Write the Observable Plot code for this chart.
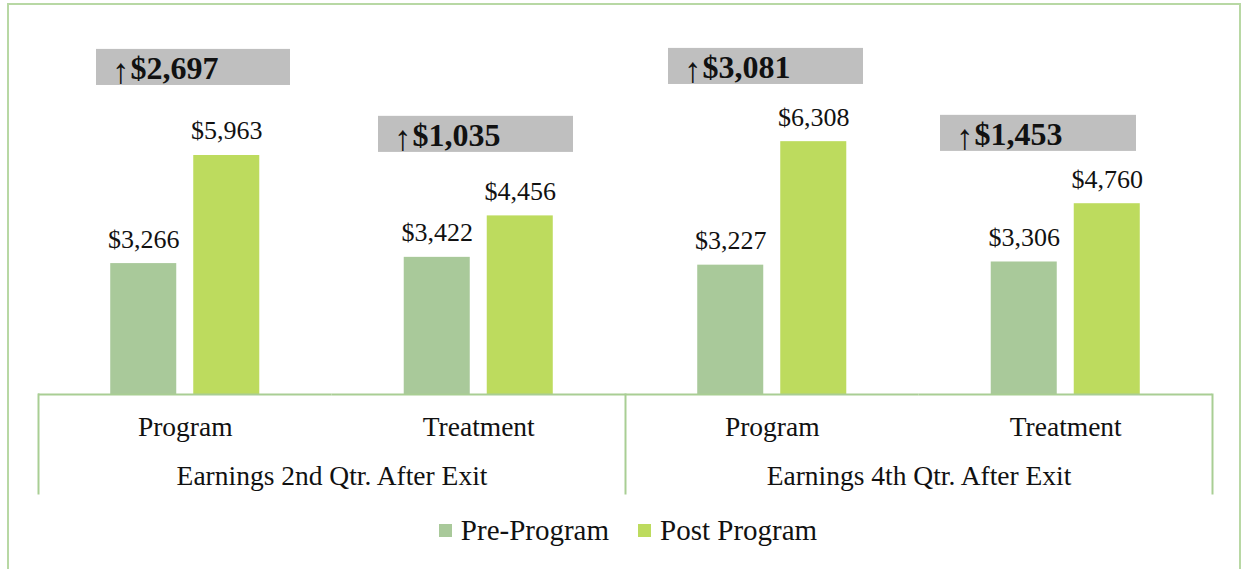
<!DOCTYPE html>
<html><head><meta charset="utf-8">
<script src="https://cdn.jsdelivr.net/npm/d3@7"></script>
<script src="https://cdn.jsdelivr.net/npm/@observablehq/plot@0.6"></script>
<style>
body{margin:0;background:#fff;}
#wrap{position:relative;width:1241px;height:569px;overflow:hidden;background:#fff;}
#border{position:absolute;left:7px;top:3px;width:1234px;height:700px;border:2px solid #b8d8a4;box-sizing:border-box;}
#chart{position:absolute;left:0;top:0;}
#legend{position:absolute;left:0;top:514px;width:1241px;display:flex;justify-content:center;padding-left:15px;box-sizing:border-box;}
#legend .lg-swatch{margin-right:29px !important;}
#legend .lg-swatch:last-child{margin-right:0 !important;}
#legend .lg-swatch svg{margin-right:9px !important;}
</style></head><body>
<div id="wrap"><div id="border"></div><div id="chart"></div><div id="legend"></div></div>
<script>
// ---- data ----
const groups = ["Earnings 2nd Qtr. After Exit", "Earnings 4th Qtr. After Exit"];
const categories = ["Program", "Treatment"];
const series = ["Pre-Program", "Post Program"];
const preValues = [3266, 3422, 3227, 3306];
const postValues = [5963, 4456, 6308, 4760];
const changeValues = [2697, 1035, 3081, 1453];

// ---- styles / layout ----
const colors = ["#a9c99a", "#bddb5e"];
const axisColor = "#a9ce94";
const serif = "'Liberation Serif', 'Times New Roman', serif";
// annotation box placement (pixel insets inside each facet, box extent in y units)
const boxLayout = [
  {left: 58, right: 41.5, lo: 7710, hi: 8610},
  {left: 46.5, right: 52, lo: 6040, hi: 6940},
  {left: 43, right: 55.5, lo: 7735, hi: 8635},
  {left: 21.5, right: 76, lo: 6065, hi: 6965}
];

// ---- build tables ----
const keys = [];
groups.forEach(g => categories.forEach(c => keys.push(g + "|" + c)));
const bars = [];
keys.forEach((k, i) => {
  bars.push({key: k, series: series[0], value: preValues[i]});
  bars.push({key: k, series: series[1], value: postValues[i]});
});
const fmt = d3.format("$,");
const catOf = k => k.split("|")[1];

const marks = [
  Plot.barY(bars, {fx: "key", x: "series", y: "value", fill: "series"}),
  Plot.text(bars, {fx: "key", x: "series", y: "value", text: d => fmt(d.value),
    lineAnchor: "bottom", dy: -16, fontSize: 26, fill: "#111"}),
  Plot.ruleY([0], {stroke: axisColor, strokeWidth: 2}),
  Plot.text(keys, {fx: d => d, text: catOf, frameAnchor: "top", dy: 33,
    lineAnchor: "middle", fontSize: 27.5, fill: "#111"}),
  Plot.text(groups, {fx: g => g + "|" + categories[0], text: d => d, frameAnchor: "top-right",
    textAnchor: "middle", dy: 82, lineAnchor: "middle", fontSize: 27.5, fill: "#111"})
];
// group separators
groups.forEach((g) => {
  marks.push(Plot.frame({anchor: "left", stroke: axisColor, strokeWidth: 2, fx: () => g + "|" + categories[0]}));
});
marks.push(Plot.frame({anchor: "right", stroke: axisColor, strokeWidth: 2,
  fx: () => groups[groups.length - 1] + "|" + categories[categories.length - 1]}));
// annotation boxes
keys.forEach((k, i) => {
  const b = boxLayout[i];
  const row = [{key: k, change: changeValues[i], lo: b.lo, hi: b.hi}];
  marks.push(Plot.rect(row, {fx: "key", y1: "lo", y2: "hi", fill: "#bfbfbf",
    insetLeft: b.left, insetRight: b.right}));
  marks.push(Plot.text(row, {fx: "key", y: d => (d.lo + d.hi) / 2, text: () => "↑",
    frameAnchor: "left", textAnchor: "end", dx: b.left + 33, dy: 4, fontSize: 35,
    fill: "#111"}));
  marks.push(Plot.text(row, {fx: "key", y: d => (d.lo + d.hi) / 2, text: d => fmt(d.change),
    frameAnchor: "left", textAnchor: "start", dx: b.left + 34, dy: 1, fontSize: 32,
    fontWeight: "bold", fill: "#111"}));
});

const chart = Plot.plot({
  width: 1241, height: 505,
  marginLeft: 38, marginRight: 29, marginTop: 394, marginBottom: 12,
  fx: {domain: keys, padding: 0, axis: null, round: false},
  x: {domain: series, paddingInner: 0.2048, paddingOuter: 0.87, axis: null, round: false},
  y: {domain: [-2470, 0], axis: null},
  color: {domain: series, range: colors},
  style: {fontFamily: serif, background: "transparent", overflow: "visible"},
  marks
});
document.getElementById("chart").appendChild(chart);

const leg = Plot.legend({color: {domain: series, range: colors}, swatchSize: 13,
  className: "lg", style: {fontFamily: serif, fontSize: "29px", color: "#111"}});
document.getElementById("legend").appendChild(leg);
</script>
</body></html>
